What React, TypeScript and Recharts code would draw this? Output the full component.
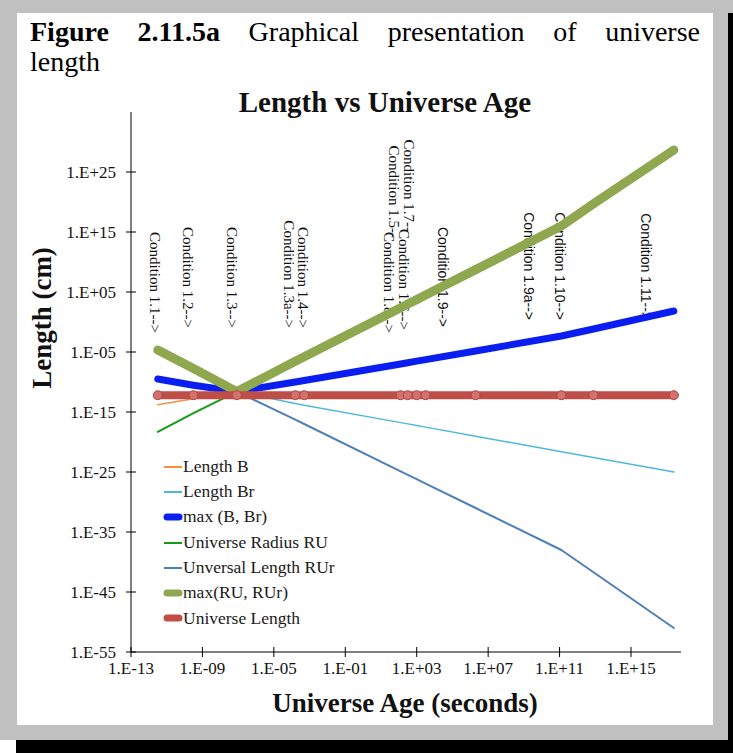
import { Legend, Line, LineChart, ReferenceLine, XAxis, YAxis } from 'recharts'

// universe age at the condition points, log10(seconds)
const ageExp = [-11.5, -9.5, -7.07, -3.8, -3.3, 2.1, 2.5, 3.0, 3.5, 6.3, 11.1, 12.9, 17.4]

// lengths at those ages, log10(cm)
const lengthB = [-13.8, -12.8, -11.6, -10.0, -9.75, -7.0, -6.8, -6.53, -6.27, -4.83, -2.33, -1.17, 1.83]
const lengthBr = [-9.5, -10.55, -11.6, -13.58, -13.87, -16.77, -16.98, -17.25, -17.52, -19.03, -21.62, -22.58, -25.0]
const maxBBr = [-9.5, -10.55, -11.6, -10.0, -9.75, -7.0, -6.8, -6.53, -6.27, -4.83, -2.33, -1.17, 1.83]
const radiusRU = [-18.3, -15.2, -11.6, -6.55, -5.8, 2.38, 3.0, 3.73, 4.5, 8.73, 16.0, 19.7, 28.67]
const lengthRUr = [-4.67, -7.75, -11.6, -16.27, -17.0, -24.88, -25.47, -26.2, -26.93, -31.0, -38.0, -41.7, -51.0]
const maxRURUr = [-4.67, -7.75, -11.6, -6.55, -5.8, 2.38, 3.0, 3.73, 4.5, 8.73, 16.0, 19.7, 28.67]
const universeLength = [-12.2, -12.2, -12.2, -12.2, -12.2, -12.2, -12.2, -12.2, -12.2, -12.2, -12.2, -12.2, -12.2]

const xTicks = [-13, -9, -5, -1, 3, 7, 11, 15]
const yTicks = [-55, -45, -35, -25, -15, -5, 5, 15, 25]

// condition annotations: text and the age (log10 s) where each column sits
const conditionText = [
  'Condition 1.1-->', 'Condition 1.2-->', 'Condition 1.3-->', 'Condition 1.3a-->', 'Condition 1.4-->',
  'Condition 1.5--', 'Condition 1.7--', 'Condition 1.8-->', 'Condition 1.6-->', 'Condition 1.9-->',
  'Condition 1.9a-->', 'Condition 1.10-->', 'Condition 1.11-->',
]
const conditionAge = [-11.66, -9.81, -7.35, -4.15, -3.37, 1.73, 2.57, 1.45, 2.29, 4.47, 9.28, 11.02, 15.83]
// where each label ends (arrow tip), px, and whether it was set in a sans face
const conditionEndY = [333, 328, 328, 328, 328, 238, 232, 333, 330, 327, 320, 320, 320]
const conditionSans = [false, false, false, false, false, false, false, false, false, true, true, true, true]

const rows = ageExp.map((age, i) => ({
  age,
  b: lengthB[i],
  br: lengthBr[i],
  maxB: maxBBr[i],
  ru: radiusRU[i],
  rur: lengthRUr[i],
  maxRU: maxRURUr[i],
  ul: universeLength[i],
}))

const series = [
  { key: 'b', name: 'Length B', color: '#f39148', width: 1.5, thick: false },
  { key: 'br', name: 'Length Br', color: '#4fb8d8', width: 1.5, thick: false },
  { key: 'maxB', name: 'max (B, Br)', color: '#0a1ef2', width: 7, thick: true },
  { key: 'ru', name: 'Universe Radius RU', color: '#169c16', width: 2, thick: false },
  { key: 'rur', name: 'Unversal Length RUr', color: '#4f7fb8', width: 2, thick: false },
  { key: 'maxRU', name: 'max(RU, RUr)', color: '#8fa74e', width: 9, thick: true },
  { key: 'ul', name: 'Universe Length', color: '#bf4e48', width: 8, thick: true },
]

const serif = '"Liberation Serif", "Times New Roman", serif'
const sans = '"Liberation Sans", Arial, sans-serif'

function expLabel(e: number): string {
  const a = Math.abs(e)
  return `1.E${e < 0 ? '-' : '+'}${a < 10 ? '0' : ''}${a}`
}

function YTick(props: any) {
  const { x, y, payload } = props
  return (
    <g>
      <line x1={x - 5} x2={x + 5} y1={y} y2={y} stroke="#000" strokeWidth={1} />
      <text x={x - 15} y={y + 6} textAnchor="end" fontFamily={serif} fontSize={17} fill="#111">
        {expLabel(payload.value)}
      </text>
    </g>
  )
}

function XTick(props: any) {
  const { x, y, payload } = props
  return (
    <g>
      <line x1={x} x2={x} y1={y - 5} y2={y + 5} stroke="#000" strokeWidth={1} />
      <text x={x} y={y + 22} textAnchor="middle" fontFamily={serif} fontSize={17} fill="#111">
        {expLabel(payload.value)}
      </text>
    </g>
  )
}

function ConditionLabel({ viewBox, text, endY, useSans }: any) {
  const cx = viewBox.x
  return (
    <text
      x={cx}
      y={endY}
      transform={`rotate(90, ${cx}, ${endY})`}
      textAnchor="end"
      dominantBaseline="central"
      fontFamily={useSans ? sans : serif}
      fontSize={useSans ? 14 : 15}
      fill="#111"
    >
      {text}
    </text>
  )
}

function LegendBox() {
  return (
    <div style={{ fontFamily: serif, fontSize: 17.5, color: '#1a1a1a', lineHeight: 1 }}>
      {series.map((s) => (
        <div key={s.key} style={{ height: 25.3, display: 'flex', alignItems: 'center' }}>
          <svg width={21} height={12} style={{ flex: 'none' }}>
            <line
              x1={s.thick ? 5 : 2}
              x2={s.thick ? 17 : 20}
              y1={6}
              y2={6}
              stroke={s.color}
              strokeWidth={s.thick ? 7 : 2}
              strokeLinecap={s.thick ? 'round' : 'butt'}
            />
          </svg>
          <span>{s.name}</span>
        </div>
      ))}
    </div>
  )
}

export default function App() {
  return (
    <div style={{ position: 'absolute', left: 0, top: 0, width: 733, height: 753, background: '#fff', overflow: 'hidden' }}>
      <div style={{ position: 'absolute', left: 16, top: 13, width: 717, height: 740, background: '#000' }} />
      <div style={{ position: 'absolute', left: 0, top: 0, width: 733, height: 13, background: '#c0c0c0' }} />
      <div style={{ position: 'absolute', left: 0, top: 0, width: 728, height: 740, background: '#c0c0c0' }} />
      <div style={{ position: 'absolute', left: 17, top: 13, width: 696, height: 712, background: '#fff' }} />

      <div
        style={{
          position: 'absolute',
          left: 30,
          top: 17,
          width: 670,
          fontFamily: serif,
          fontSize: 28,
          lineHeight: '30px',
          color: '#000',
        }}
      >
        <div style={{ textAlign: 'justify', textAlignLast: 'justify' }}>
          <b>Figure 2.11.5a</b> Graphical presentation of universe
        </div>
        <div>length</div>
      </div>

      <div style={{ position: 'absolute', left: 0, top: 0 }}>
        <LineChart width={733} height={753} data={rows} margin={{ top: 112, right: 52, bottom: 0, left: 0 }}>
          <XAxis
            type="number"
            dataKey="age"
            domain={[-13, 17.8]}
            ticks={xTicks}
            allowDataOverflow
            height={101}
            tickSize={0}
            tickMargin={0}
            tickLine={false}
            axisLine={{ stroke: '#000', strokeWidth: 1 }}
            tick={<XTick />}
            interval={0}
          />
          <YAxis
            type="number"
            domain={[-55, 35]}
            ticks={yTicks}
            allowDataOverflow
            width={131}
            tickSize={0}
            tickMargin={0}
            tickLine={false}
            axisLine={{ stroke: '#000', strokeWidth: 1 }}
            tick={<YTick />}
            interval={0}
          />
          {conditionText.map((t, i) => (
            <ReferenceLine
              key={t}
              x={conditionAge[i]}
              stroke="none"
              label={(p: any) => (
                <ConditionLabel viewBox={p.viewBox} text={t} endY={conditionEndY[i]} useSans={conditionSans[i]} />
              )}
            />
          ))}
          {series.map((s) => (
            <Line
              key={s.key}
              type="linear"
              dataKey={s.key}
              name={s.name}
              stroke={s.color}
              strokeWidth={s.width}
              strokeLinecap="round"
              strokeLinejoin="round"
              dot={s.key === 'ul' ? { r: 4.5, fill: '#d0726d', stroke: '#b84640', strokeWidth: 1 } : false}
              isAnimationActive={false}
            />
          ))}
          <Legend
            layout="vertical"
            align="center"
            verticalAlign="middle"
            wrapperStyle={{ left: 162, top: 454, width: 260 }}
            content={() => <LegendBox />}
          />
        </LineChart>
      </div>

      <svg width={733} height={753} style={{ position: 'absolute', left: 0, top: 0, pointerEvents: 'none' }}>
        <text x={385} y={112} textAnchor="middle" fontFamily={serif} fontWeight="bold" fontSize={29} fill="#111">
          Length vs Universe Age
        </text>
        <text
          transform="translate(51, 318) rotate(-90)"
          textAnchor="middle"
          fontFamily={serif}
          fontWeight="bold"
          fontSize={27}
          fill="#111"
        >
          Length (cm)
        </text>
        <text x={405} y={712} textAnchor="middle" fontFamily={serif} fontWeight="bold" fontSize={27} fill="#111">
          Universe Age (seconds)
        </text>
      </svg>
    </div>
  )
}
